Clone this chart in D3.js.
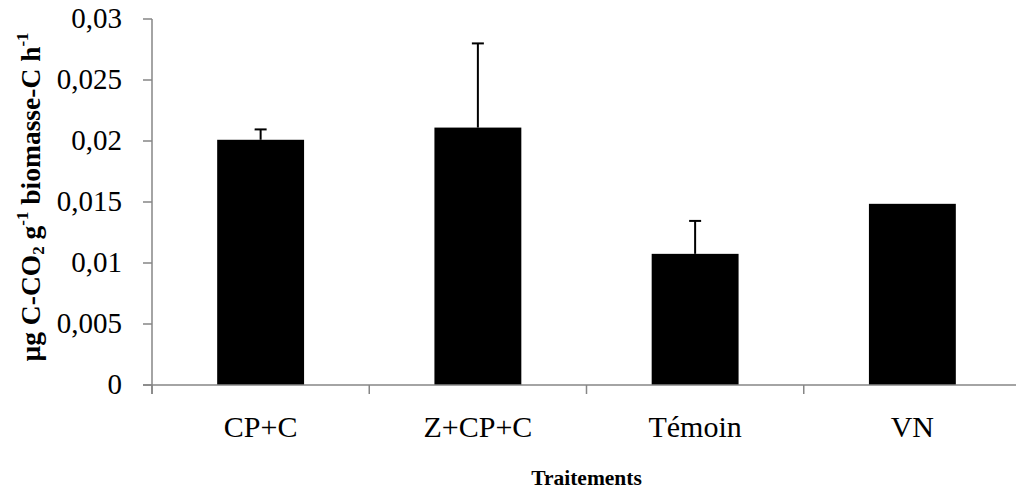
<!DOCTYPE html>
<html><head><meta charset="utf-8">
<script src="https://cdn.jsdelivr.net/npm/d3@7"></script>
<style>
body{margin:0;background:#fff;}
svg{display:block;}
svg text{font-family:"Liberation Serif","Times New Roman",serif;}
</style></head>
<body>
<svg id="chart" width="1016" height="490"></svg>
<script>
const categories = ["CP+C", "Z+CP+C", "Témoin", "VN"];
const values = [0.0201, 0.0211, 0.01075, 0.01485];
const errors = [0.00085, 0.0069, 0.0027, 0];
const yTicks = [0, 0.005, 0.01, 0.015, 0.02, 0.025, 0.03];
const yTickLabels = ["0", "0,005", "0,01", "0,015", "0,02", "0,025", "0,03"];
const xTitle = "Traitements";

(function () {
const svg = d3.select("#chart");
const pLeft = 152, pRight = 1021, pTop = 19, pBottom = 385;
const axisColor = "#868686";

const x = d3.scaleBand().domain(categories).range([pLeft, pRight]).paddingInner(0.6).paddingOuter(0.3);
const xTick = d3.scalePoint().domain(d3.range(categories.length + 1)).range([pLeft, pRight]);
const y = d3.scaleLinear().domain([0, 0.03]).range([pBottom, pTop]);

// bars
svg.append("g").selectAll("rect").data(categories).join("rect")
  .attr("x", d => x(d)).attr("width", x.bandwidth())
  .attr("y", (d, i) => y(values[i])).attr("height", (d, i) => y(0) - y(values[i]))
  .attr("fill", "#000");

// error bars
const eb = svg.append("g").attr("stroke", "#000").attr("stroke-width", 2);
categories.forEach((c, i) => {
  if (!errors[i]) return;
  const cx = x(c) + x.bandwidth() / 2;
  eb.append("line").attr("x1", cx).attr("x2", cx).attr("y1", y(values[i])).attr("y2", y(values[i] + errors[i]));
  eb.append("line").attr("x1", cx - 6).attr("x2", cx + 6).attr("y1", y(values[i] + errors[i])).attr("y2", y(values[i] + errors[i]));
});

// y axis
const yAxis = svg.append("g");
yAxis.append("line").attr("x1", pLeft).attr("x2", pLeft).attr("y1", pTop).attr("y2", pBottom + 9)
  .attr("stroke", axisColor).attr("stroke-width", 1.5);
yAxis.selectAll("line.t").data(yTicks).join("line").attr("class", "t")
  .attr("x1", pLeft - 9).attr("x2", pLeft).attr("y1", d => y(d)).attr("y2", d => y(d))
  .attr("stroke", axisColor).attr("stroke-width", 1.5);
yAxis.selectAll("text").data(yTicks).join("text")
  .attr("x", pLeft - 30).attr("y", d => y(d) + 8.5)
  .attr("text-anchor", "end").style("font-size", "29px")
  .text((d, i) => yTickLabels[i]);

// x axis
const xAxis = svg.append("g");
xAxis.append("line").attr("x1", pLeft - 9).attr("x2", 1016).attr("y1", pBottom).attr("y2", pBottom)
  .attr("stroke", axisColor).attr("stroke-width", 1.5);
xAxis.selectAll("line.t").data(d3.range(categories.length + 1)).join("line").attr("class", "t")
  .attr("x1", d => xTick(d)).attr("x2", d => xTick(d)).attr("y1", pBottom).attr("y2", pBottom + 9)
  .attr("stroke", axisColor).attr("stroke-width", 1.5);
xAxis.selectAll("text").data(categories).join("text")
  .attr("x", d => x(d) + x.bandwidth() / 2).attr("y", 437)
  .attr("text-anchor", "middle").style("font-size", "30px")
  .text(d => d);

// x title
svg.append("text").attr("x", (pLeft + pRight) / 2).attr("y", 485)
  .attr("text-anchor", "middle").style("font-size", "21.5px").style("font-weight", "bold")
  .text(xTitle);

// y title with sub/superscripts
const yt = svg.append("text").attr("transform", `translate(40,197) rotate(-90)`)
  .attr("text-anchor", "middle").style("font-size", "27.5px").style("font-weight", "bold");
const parts = [["µg C-CO", 0], ["2", -1], [" g", 0], ["-1", 1], [" biomasse-C  h", 0], ["-1", 1]];
let prev = 0;
parts.forEach(([t, s]) => {
  const sh = s === 1 ? -12 : s === -1 ? 4 : 0;
  const tsp = yt.append("tspan").text(t).attr("dy", sh - prev);
  if (s !== 0) tsp.style("font-size", "17px");
  prev = sh;
});
})();
</script>
</body></html>
